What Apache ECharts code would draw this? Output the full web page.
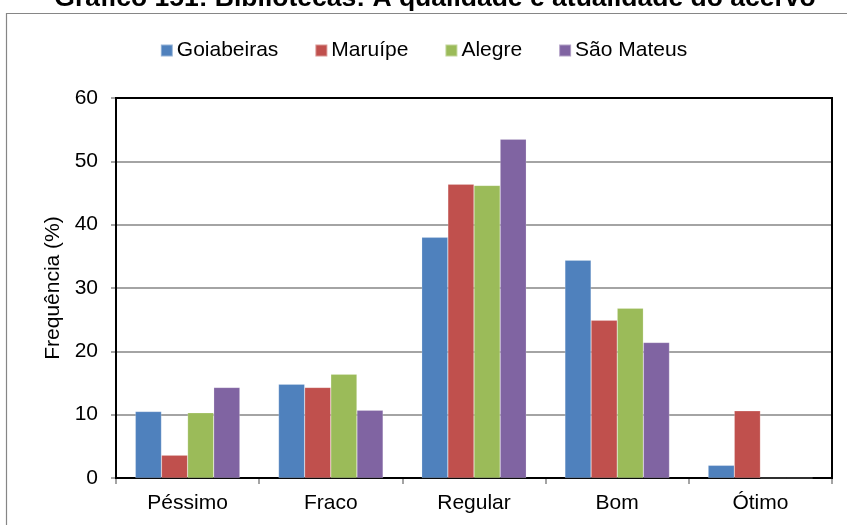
<!DOCTYPE html>
<html>
<head>
<meta charset="utf-8">
<script src="https://cdn.jsdelivr.net/npm/echarts@6/dist/echarts.min.js"></script>
<style>
  html, body { margin: 0; padding: 0; background: #fff; }
  #chart { width: 847px; height: 525px; }
</style>
</head>
<body>
<div id="chart"></div>
<script>
const categories = ['Péssimo', 'Fraco', 'Regular', 'Bom', 'Ótimo']
const goiabeiras = [10.5, 14.8, 38.0, 34.4, 2.0]
const maruipe = [3.6, 14.3, 46.4, 24.9, 10.6]
const alegre = [10.3, 16.4, 46.2, 26.8, 0]
const saoMateus = [14.3, 10.7, 53.5, 21.4, 0]
const yTicks = [0, 10, 20, 30, 40, 50, 60]

const font = 'Arial, "Liberation Sans", sans-serif'

const chart = echarts.init(document.getElementById('chart'), null, { renderer: 'canvas' })

const bar = (name, data, color) => ({
  name,
  type: 'bar',
  data,
  barGap: '0%',
  barCategoryGap: '27%',
  itemStyle: { color, borderColor: 'rgba(255,255,255,0.4)', borderWidth: 0.5 },
  emphasis: { disabled: true }
})

const option = {
  animation: false,
  backgroundColor: '#fff',
  color: ['#4F81BD', '#C0504D', '#9BBB59', '#8064A2'],
  graphic: [
    {
      // outer chart frame, runs off the right and bottom edges
      type: 'rect',
      shape: { x: 6.5, y: 13.5, width: 860, height: 540 },
      style: { fill: 'none', stroke: '#868686', lineWidth: 1.2 },
      silent: true
    },
    {
      type: 'text',
      x: 435,
      y: -1,
      style: {
        text: 'Gráfico 151: Bibliotecas: A qualidade e atualidade do acervo',
        font: 'bold 26.5px ' + font,
        fill: '#000',
        align: 'center',
        verticalAlign: 'middle'
      },
      silent: true
    },
    {
      type: 'rect',
      shape: { x: 116, y: 98, width: 716, height: 380 },
      style: { fill: 'none', stroke: '#000', lineWidth: 2 },
      silent: true,
      z: 1
    }
  ],
  legend: {
    top: 35,
    left: 'center',
    itemWidth: 12,
    itemHeight: 12,
    itemGap: 36,
    icon: 'rect',
    textStyle: { fontFamily: font, fontSize: 21, color: '#000', padding: [0, 0, 0, -1] },
    data: ['Goiabeiras', 'Maruípe', 'Alegre', 'São Mateus']
  },
  grid: { left: 116, right: 15, top: 98, bottom: 47, containLabel: false },
  xAxis: {
    type: 'category',
    data: categories,
    axisLine: { lineStyle: { color: '#868686', width: 2 } },
    axisTick: { show: true, length: 6, lineStyle: { color: '#868686', width: 1.5 } },
    axisLabel: { fontFamily: font, fontSize: 21, color: '#000', margin: 15 }
  },
  yAxis: {
    type: 'value',
    min: yTicks[0],
    max: yTicks[yTicks.length - 1],
    interval: 10,
    name: 'Frequência (%)',
    nameLocation: 'middle',
    nameGap: 49,
    nameRotate: 90,
    nameTextStyle: { fontFamily: font, fontSize: 21, color: '#000' },
    axisLine: { show: true, lineStyle: { color: '#868686', width: 2 } },
    axisTick: { show: true, length: 5, lineStyle: { color: '#868686', width: 1.5 } },
    axisLabel: { fontFamily: font, fontSize: 21, color: '#000', margin: 18 },
    splitLine: { lineStyle: { color: '#868686', width: 1.5 } }
  },
  series: [
    bar('Goiabeiras', goiabeiras, '#4F81BD'),
    bar('Maruípe', maruipe, '#C0504D'),
    bar('Alegre', alegre, '#9BBB59'),
    bar('São Mateus', saoMateus, '#8064A2')
  ]
}

chart.setOption(option)
</script>
</body>
</html>
